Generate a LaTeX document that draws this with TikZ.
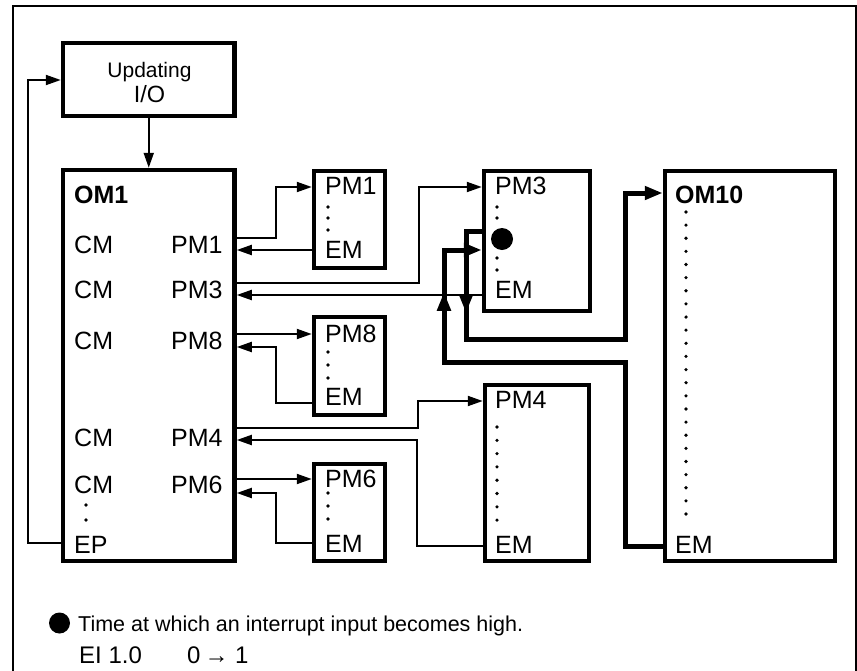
\documentclass[tikz,border=0pt]{standalone}
\usepackage{fontspec}
\setmainfont{Liberation Sans}
\usetikzlibrary{arrows.meta,decorations.markings}
\tikzset{
  box/.style={draw, line width=4.5pt, inner sep=0pt},
  lbl/.style={anchor=base west, inner sep=0pt, font=\fontsize{25}{30}\selectfont},
  blbl/.style={anchor=base west, inner sep=0pt, font=\fontsize{25}{30}\selectfont\bfseries},
  leg/.style={anchor=base west, inner sep=0pt, font=\fontsize{21.5}{26}\selectfont},
  leg2/.style={anchor=base west, inner sep=0pt, font=\fontsize{24}{28}\selectfont},
  thinl/.style={line width=2pt, -{Triangle[length=15pt,width=10pt]}},
  thickl/.style={line width=5pt, -{Triangle[length=18pt,width=13pt]}},
  midarrow/.style={decoration={markings, mark=at position #1 with {\arrow{Triangle[length=19pt,width=13pt]}}}, postaction={decorate}},
  sdot/.style={fill=black},
}
\begin{document}
\begin{tikzpicture}[x=1pt,y=-1pt]
\useasboundingbox (0,0) rectangle (857,670);
% frame
\draw[line width=2pt] (13,690) -- (13,6) -- (855.5,6) -- (855.5,690);

% boxes
\node[box, minimum width=171.5pt, minimum height=73pt] (IO) at (148.75,79.5) {};
\node[box, minimum width=171.5pt, minimum height=391pt] (OM1) at (148.75,365.5) {};
\node[box, minimum width=71pt, minimum height=97pt] (PM1) at (349.5,219.5) {};
\node[box, minimum width=71pt, minimum height=98pt] (PM8) at (349.5,366) {};
\node[box, minimum width=71pt, minimum height=97pt] (PM6) at (349.5,512.5) {};
\node[box, minimum width=106pt, minimum height=140pt] (PM3) at (537,241) {};
\node[box, minimum width=104pt, minimum height=176pt] (PM4) at (537,473) {};
\node[box, minimum width=170pt, minimum height=390pt] (OM10) at (750,366) {};

% I/O text
\node[anchor=base, inner sep=0pt, font=\fontsize{21}{25}\selectfont] (tupd) at (149.5,77) {Updating};
\node[anchor=base, inner sep=0pt, font=\fontsize{23.5}{28}\selectfont] (tio) at (149.5,102) {I/O};

% OM1 texts
\node[blbl] (tom1) at (74,203) {OM1};
\node[lbl] (cm1) at (74,253) {CM};
\node[lbl] (cm2) at (74,298) {CM};
\node[lbl] (cm3) at (74,349) {CM};
\node[lbl] (cm4) at (74,446) {CM};
\node[lbl] (cm5) at (74,493) {CM};
\node[lbl] (tep) at (74,553) {EP};
\node[lbl] (op1) at (171,253) {PM1};
\node[lbl] (op3) at (171,298) {PM3};
\node[lbl] (op8) at (171,349) {PM8};
\node[lbl] (op4) at (171,446) {PM4};
\node[lbl] (op6) at (171,493) {PM6};
\foreach \y in {505,520} \fill[sdot] (86,\y) circle (1.9pt);

% PM box texts
\node[lbl] (tp1) at (325,194) {PM1};
\node[lbl] (te1) at (325,258) {EM};
\node[lbl] (tp8) at (325,342) {PM8};
\node[lbl] (te8) at (325,405) {EM};
\node[lbl] (tp6) at (325,487) {PM6};
\node[lbl] (te6) at (325,552) {EM};
\node[lbl] (tp3) at (495,194) {PM3};
\node[lbl] (te3) at (495,298) {EM};
\node[lbl] (tp4) at (495,408) {PM4};
\node[lbl] (te4) at (495,553) {EM};
\node[blbl] (tom10) at (675,203) {OM10};
\node[lbl] (te10) at (675,553) {EM};

% dots
\foreach \y in {207,218,230} \fill[sdot] (328,\y) circle (1.8pt);
\foreach \y in {352,365,378} \fill[sdot] (328,\y) circle (1.8pt);
\foreach \y in {493,506,519} \fill[sdot] (328,\y) circle (1.8pt);
\foreach \y in {207,218,258,270} \fill[sdot] (497,\y) circle (1.8pt);
\foreach \i in {0,...,7} \fill[sdot] (497,427+13.3*\i) circle (1.8pt);
\foreach \i in {0,...,23} \fill[sdot] (686,212+13.13*\i) circle (1.8pt);
\node[circle, fill=black, inner sep=0pt, minimum size=22pt] (intdot) at (502,239) {};

% thin connectors
\draw[thinl] (IO.south) -- (OM1.north);
\draw[thinl] (OM1.west |- 0,543) -- (28,543) -- (28,80) -- (IO.west |- 0,80);
\draw[thinl] (OM1.east |- 0,238) -- (276,238) -- (276,187) -- (PM1.west |- 0,187);
\draw[thinl] (PM1.west |- 0,250) -- (OM1.east |- 0,250);
\draw[thinl] (OM1.east |- 0,283) -- (419,283) -- (419,187) -- (PM3.west |- 0,187);
\draw[thinl] (PM3.west |- 0,295) -- (OM1.east |- 0,295);
\draw[thinl] (OM1.east |- 0,334) -- (PM8.west |- 0,334);
\draw[thinl] (PM8.west |- 0,403) -- (276,403) -- (276,347) -- (OM1.east |- 0,347);
\draw[thinl] (OM1.east |- 0,428) -- (418,428) -- (418,401) -- (PM4.west |- 0,401);
\draw[thinl] (PM4.west |- 0,546) -- (417,546) -- (417,440) -- (OM1.east |- 0,440);
\draw[thinl] (OM1.east |- 0,479) -- (PM6.west |- 0,479);
\draw[thinl] (PM6.west |- 0,543) -- (276,543) -- (276,493) -- (OM1.east |- 0,493);

% thick interrupt connectors
\draw[thickl, midarrow=98pt] (PM3.west |- 0,231) -- (466,231) -- (466,339) -- (625,339) -- (625,193) -- (OM10.west |- 0,193);
\draw[thickl, midarrow=473pt] (OM10.west |- 0,546) -- (625,546) -- (625,362) -- (444,362) -- (444,250) -- (PM3.west |- 0,250);

% legend
\node[circle, fill=black, inner sep=0pt, minimum size=21pt] (legdot) at (59.5,623) {};
\node[leg] (legt) at (78,631) {Time at which an interrupt input becomes high.};
\node[leg2] (legei) at (79,663) {EI 1.0};
\node[leg2] (legval) at (187,663) {0\,→ 1};
\end{tikzpicture}
\end{document}
